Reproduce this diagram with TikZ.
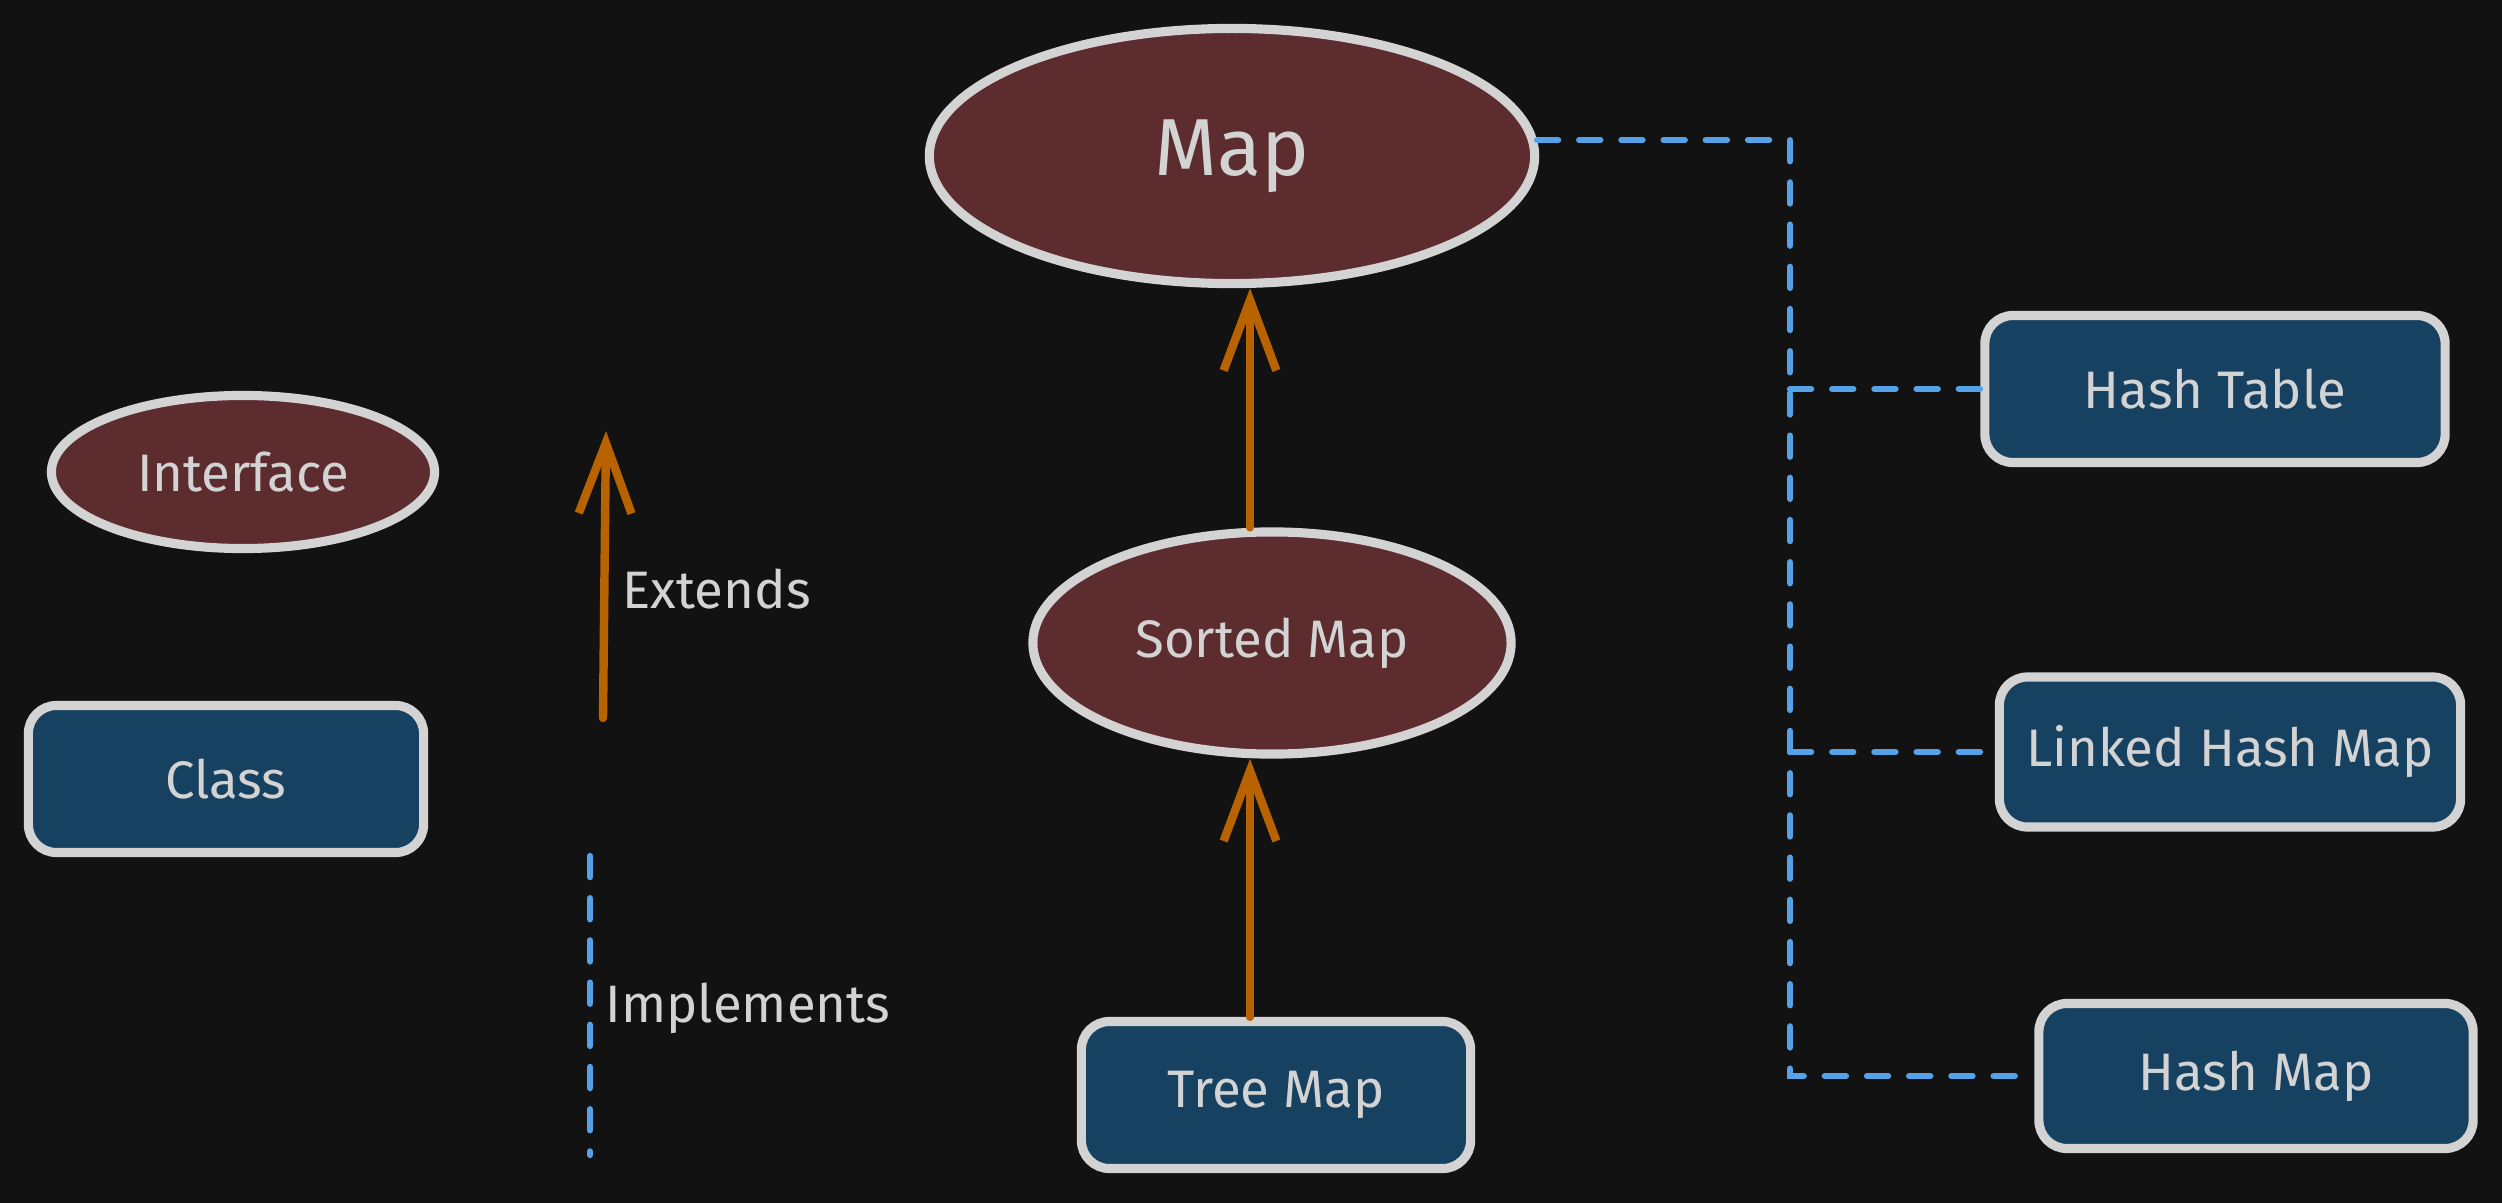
\documentclass[tikz,border=0pt]{standalone}
\usepackage{fontspec}
\setmainfont{Fira Sans}
\usetikzlibrary{arrows.meta,shapes.geometric}
\definecolor{bgc}{HTML}{121212}
\definecolor{ifc}{HTML}{5C2C2E}
\definecolor{clc}{HTML}{174161}
\definecolor{edge}{HTML}{D3D3D3}
\definecolor{ext}{HTML}{B86200}
\definecolor{imp}{HTML}{56A2E8}

\begin{document}
\begin{tikzpicture}[x=0.01cm,y=-0.01cm]
\tikzstyle{iface}=[ellipse, draw=edge, fill=ifc, line width=2.6pt, text=edge,
                        inner sep=0pt, font=\fontsize{15}{18}\selectfont]
\tikzstyle{cls}=[rectangle, rounded corners=8pt, draw=edge, fill=clc, line width=2.6pt,
                        text=edge, inner sep=0pt, font=\fontsize{15}{18}\selectfont]
\tikzstyle{extends}=[draw=ext, line width=2.4pt, line cap=round,
                        -{Straight Barb[length=20pt,width=15pt]}]
\tikzstyle{implements}=[draw=imp, line width=1.8pt, line cap=round, dash pattern=on 6pt off 6pt]
\tikzstyle{lbl}=[anchor=west, text=edge, inner sep=0pt, font=\fontsize{15}{18}\selectfont]
\fill[bgc] (0,0) rectangle (2502,1203);
\useasboundingbox (0,0) rectangle (2502,1203);
	\node[iface, minimum width=6.05cm, minimum height=2.55cm, font=\fontsize{23}{26}\selectfont] (map) at (1232,156){Map};
	\node[iface, minimum width=4.78cm, minimum height=2.22cm] (sorted) at (1272,643){Sorted Map};
	\node[cls, minimum width=3.89cm, minimum height=1.47cm] (tree) at (1276,1095){Tree Map};
	\node[cls, minimum width=4.60cm, minimum height=1.47cm] (hashtable) at (2215,389){Hash Table};
	\node[cls, minimum width=4.61cm, minimum height=1.50cm] (linked) at (2230,752){Linked Hash Map};
	\node[cls, minimum width=4.34cm, minimum height=1.45cm] (hashmap) at (2256,1076){Hash Map};
	\node[iface, minimum width=3.83cm, minimum height=1.53cm] (iface) at (243,472){Interface};
	\node[cls, minimum width=3.95cm, minimum height=1.47cm] (class) at (226,779){Class};
	\coordinate (col) at (1250,0);
	\coordinate (extA) at (603,718);
	\coordinate (extB) at (606,431);
	\coordinate (impA) at (590,856);
	\coordinate (impB) at (590,1155);
	\coordinate (bus) at (1790,140);
	\node[lbl] (extlbl) at (622,589){Extends};
	\node[lbl] (implbl) at (605,1008){Implements};
\draw[extends] (tree.north -| col)--(sorted.south -| col);
\draw[extends] (sorted.north -| col)--(map.south -| col);
\draw[extends] (extA)--(extB);
\draw[implements] (impA)--(impB);
\draw[implements] (map.3)--(map.3 -| bus)|-(hashmap.west);
\draw[implements] (hashtable.west -| bus)--(hashtable.west);
\draw[implements] (linked.west -| bus)--(linked.west);
\end{tikzpicture}
\end{document}
